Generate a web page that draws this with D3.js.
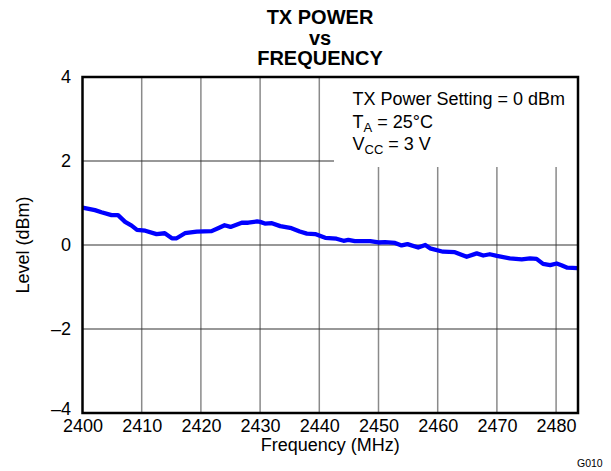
<!DOCTYPE html>
<html>
<head>
<meta charset="utf-8">
<style>
  body { margin: 0; background: #fff; }
  svg text { font-family: "Liberation Sans", Arial, sans-serif; fill: #000; }
</style>
</head>
<body>
<svg id="chart" width="611" height="471"></svg>
<script src="https://cdn.jsdelivr.net/npm/d3@7"></script>
<script>
// measured TX power curve
var freq = [2400.0, 2402.1, 2403.2, 2404.9, 2406.0, 2407.2, 2408.3, 2409.2, 2410.6, 2412.5,
            2413.9, 2415.1, 2415.9, 2417.3, 2419.3, 2421.8, 2422.9, 2424.0, 2425.0, 2426.9,
            2428.0, 2429.5, 2430.0, 2430.8, 2432.0, 2433.4, 2435.3, 2436.7, 2437.9, 2439.3,
            2441.0, 2442.9, 2444.1, 2444.9, 2446.0, 2448.6, 2450.0, 2451.1, 2452.8, 2453.9,
            2454.9, 2456.7, 2457.9, 2458.7, 2460.9, 2462.9, 2464.9, 2466.6, 2467.7, 2468.8,
            2470.0, 2472.2, 2474.2, 2475.6, 2476.7, 2477.8, 2479.0, 2480.1, 2480.9, 2481.9,
            2483.6];
var level = [0.89, 0.83, 0.78, 0.71, 0.71, 0.55, 0.46, 0.36, 0.34, 0.26,
             0.28, 0.16, 0.16, 0.28, 0.32, 0.33, 0.40, 0.47, 0.43, 0.53,
             0.53, 0.56, 0.55, 0.51, 0.52, 0.45, 0.40, 0.32, 0.27, 0.26,
             0.17, 0.15, 0.10, 0.12, 0.09, 0.09, 0.06, 0.07, 0.05, -0.01,
             0.02, -0.06, 0.00, -0.08, -0.16, -0.17, -0.28, -0.20, -0.25, -0.22,
             -0.26, -0.32, -0.34, -0.32, -0.33, -0.45, -0.48, -0.44, -0.48, -0.54,
             -0.55];

var xTicks = [2400, 2410, 2420, 2430, 2440, 2450, 2460, 2470, 2480];
var yTicks = [4, 2, 0, -2, -4];
var titleLines = ["TX POWER", "vs", "FREQUENCY"];

var svg = d3.select("#chart");
var m = {left: 82.5, right: 33, top: 77, bottom: 58};
var W = 611, H = 471;

var x = d3.scaleLinear().domain([2400, 2483.7]).range([m.left, W - m.right]);
var y = d3.scaleLinear().domain([-4, 4]).range([H - m.bottom, m.top]);

// the conditions box covers the upper right corner, grid stops there
var boxLeft = 334, boxBottom = 167;

var grid = svg.append("g");
grid.selectAll("line.v").data(xTicks.slice(1)).enter().append("line")
  .attr("class", "v")
  .attr("x1", d => x(d)).attr("x2", d => x(d))
  .attr("y1", d => x(d) > boxLeft ? boxBottom : y(4))
  .attr("y2", y(-4))
  .attr("stroke", "#8a8a8a").attr("stroke-width", 1.5);
grid.selectAll("line.h").data(yTicks.slice(1, 4)).enter().append("line")
  .attr("class", "h")
  .attr("x1", x(2400))
  .attr("x2", d => y(d) < boxBottom ? boxLeft : x(2483.7))
  .attr("y1", d => y(d)).attr("y2", d => y(d))
  .attr("stroke", "#333").attr("stroke-width", 1.2);

var fmt = d => d < 0 ? "\u2013" + Math.abs(d) : "" + d;

var xAxis = svg.append("g")
  .attr("transform", "translate(0," + y(-4) + ")")
  .call(d3.axisBottom(x).tickValues(xTicks).tickSize(0).tickPadding(6).tickFormat(d3.format("d")));
xAxis.select(".domain").remove();
xAxis.selectAll("text").style("font-size", "18px");

var yAxis = svg.append("g")
  .attr("transform", "translate(" + m.left + ",0)")
  .call(d3.axisLeft(y).tickValues(yTicks).tickSize(0).tickPadding(11.5).tickFormat(fmt));
yAxis.select(".domain").remove();
yAxis.selectAll("text").style("font-size", "18px")
  .attr("dy", d => d === -4 ? "0.1em" : "0.32em");

// curve
var line = d3.line().x((d, i) => x(freq[i])).y(d => y(d));
svg.append("path").datum(level)
  .attr("d", line)
  .attr("fill", "none").attr("stroke", "#0000ff")
  .attr("stroke-width", 4.3).attr("stroke-linejoin", "round");

// plot frame
svg.append("rect")
  .attr("x", x(2400)).attr("y", y(4))
  .attr("width", x(2483.7) - x(2400)).attr("height", y(-4) - y(4))
  .attr("fill", "none").attr("stroke", "#000").attr("stroke-width", 2.5);

// title
svg.append("text").attr("x", 320).attr("y", 24)
  .attr("text-anchor", "middle").style("font-size", "20px").style("font-weight", "bold")
  .selectAll("tspan").data(titleLines).enter().append("tspan")
  .attr("x", 320).attr("dy", (d, i) => i ? 20.5 : 0).text(d => d);

// conditions
var cond = svg.append("g").style("font-size", "18px");
cond.append("text").attr("x", 352.5).attr("y", 105).text("TX Power Setting = 0 dBm");
var ta = cond.append("text").attr("x", 352.5).attr("y", 128);
ta.append("tspan").text("T");
ta.append("tspan").attr("dy", 4).style("font-size", "13px").text("A");
ta.append("tspan").attr("dy", -4).text(" = 25\u00b0C");
var vcc = cond.append("text").attr("x", 352.5).attr("y", 150);
vcc.append("tspan").text("V");
vcc.append("tspan").attr("dy", 4).style("font-size", "13px").text("CC");
vcc.append("tspan").attr("dy", -4).text(" = 3 V");

// axis titles
svg.append("text").attr("x", (m.left + W - m.right) / 2).attr("y", 451)
  .attr("text-anchor", "middle").style("font-size", "18px").text("Frequency (MHz)");
svg.append("text").attr("transform", "translate(29," + y(0) + ") rotate(-90)")
  .attr("text-anchor", "middle").style("font-size", "18px").text("Level (dBm)");

svg.append("text").attr("x", 577).attr("y", 466.5).style("font-size", "10.5px").text("G010");
</script>
</body>
</html>
